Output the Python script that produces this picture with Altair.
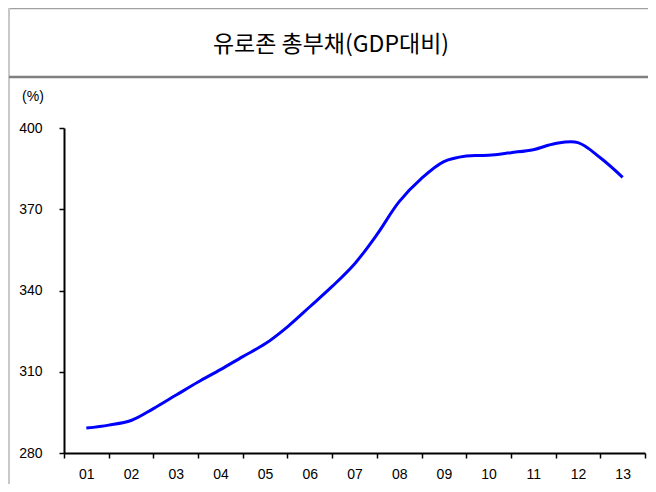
import altair as alt
import pandas as pd

# Half-year positions (1 = 2001 ... 13 = 2013) and eurozone total debt (% of GDP)
t_vals = [1.0, 1.5, 2.0, 2.5, 3.0, 3.5, 4.0, 4.5, 5.0, 5.5, 6.0, 6.5, 7.0,
          7.5, 8.0, 8.5, 9.0, 9.5, 10.0, 10.5, 11.0, 11.5, 12.0, 12.5, 13.0]
debt = [289.2, 290.3, 292.0, 296.4, 301.3, 306.2, 310.8, 315.6, 320.3, 326.6, 334.0,
        341.5, 349.8, 360.6, 372.8, 381.4, 387.6, 389.7, 389.9, 390.9, 392.0,
        394.3, 394.6, 389.0, 381.8]
x_labels = ["01", "02", "03", "04", "05", "06", "07", "08", "09", "10", "11", "12", "13"]
y_ticks = [280, 310, 340, 370, 400]
title_text = "유로존 총부채(GDP대비)"
unit_text = "(%)"

W, H = 581, 325
PAD_L, PAD_T, PAD_R, PAD_B = 56, 120, 3, 31

df = pd.DataFrame({"t": t_vals, "v": debt})

label_arr = "[" + ",".join("'%s'" % s for s in x_labels) + "]"
label_expr = f"datum.value > 13 ? '' : {label_arr}[round(datum.value - 0.5)]"

FONT = "Liberation Sans"

line = alt.Chart(df).mark_line(color="#0000FF", strokeWidth=3, interpolate="catmull-rom").encode(
    x=alt.X("t:Q",
            scale=alt.Scale(domain=[0.5, 13.5], nice=False, zero=False),
            axis=alt.Axis(values=[0.5 + i for i in range(14)], labelExpr=label_expr,
                          labelOffset=W / 13 / 2, labelFlush=False, labelOverlap=False,
                          tickSize=5, tickWidth=1.5, tickColor="black",
                          domainWidth=2, domainColor="black",
                          labelFont=FONT, labelFontSize=14, labelColor="black",
                          labelPadding=9, grid=False, title=None)),
    y=alt.Y("v:Q",
            scale=alt.Scale(domain=[280, 400], nice=False, zero=False),
            axis=alt.Axis(values=y_ticks, tickSize=5, tickWidth=1.5, tickColor="black",
                          domainWidth=2, domainColor="black",
                          labelFont=FONT, labelFontSize=14, labelColor="black",
                          labelPadding=17, grid=False, title=None)),
)

one = alt.Data(values=[{"a": 1}])

title = alt.Chart(one).mark_text(text=title_text, font="Noto Sans CJK KR", fontSize=23,
                                 color="black", align="center", baseline="middle").encode(
    x=alt.value(267), y=alt.value(-83))

unit = alt.Chart(one).mark_text(text=unit_text, font=FONT, fontSize=14,
                                color="black", align="center", baseline="middle").encode(
    x=alt.value(-31), y=alt.value(-31))

sep = alt.Chart(one).mark_rule(color="#808080", strokeWidth=2.5).encode(
    x=alt.value(-55), x2=alt.value(W + PAD_R), y=alt.value(-51))
top = alt.Chart(one).mark_rule(color="#a0a0a0", strokeWidth=1.5).encode(
    x=alt.value(-55), x2=alt.value(W + PAD_R), y=alt.value(-119.5))
left = alt.Chart(one).mark_rule(color="#c8c8c8", strokeWidth=2).encode(
    x=alt.value(-55), y=alt.value(-120), y2=alt.value(H + PAD_B))

chart = alt.layer(top, left, sep, title, unit, line).properties(
    width=W, height=H,
    autosize=alt.AutoSizeParams(type="none"),
    padding={"left": PAD_L, "top": PAD_T, "right": PAD_R, "bottom": PAD_B},
).configure_view(stroke=None)

chart.save("out.html", embed_options={"renderer": "svg", "actions": False})
